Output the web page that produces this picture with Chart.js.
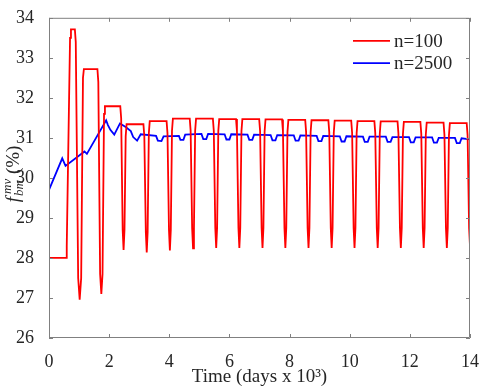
<!DOCTYPE html>
<html>
<head>
<meta charset="utf-8">
<script src="https://cdn.jsdelivr.net/npm/chart.js@4"></script>
<style>
  html, body { margin: 0; padding: 0; background: #fff; }
  #wrap { width: 484px; height: 388px; }
</style>
</head>
<body>
<div id="wrap"><canvas id="chart" width="484" height="388"></canvas></div>
<script>
// time in days x 10^3, values in %
const redTime = [
  0, 0.57, 0.59, 0.70, 0.73, 0.86, 0.89, 0.97, 1.02, 1.07, 1.13, 1.16,
  1.61, 1.64, 1.70, 1.74, 1.78, 1.83, 1.86, 2.37,
  2.40, 2.45, 2.48, 2.51, 2.55, 2.58, 3.14,
  3.17, 3.22, 3.25, 3.28, 3.32, 3.35, 3.91,
  3.94, 3.99, 4.02, 4.05, 4.09, 4.12, 4.68,
  4.71, 4.76, 4.79, 4.82, 4.86, 4.89, 5.45,
  5.48, 5.53, 5.56, 5.59, 5.63, 5.66, 6.22,
  6.25, 6.30, 6.33, 6.36, 6.40, 6.43, 6.99,
  7.02, 7.07, 7.10, 7.13, 7.17, 7.20, 7.75,
  7.78, 7.83, 7.86, 7.89, 7.93, 7.96, 8.52,
  8.55, 8.60, 8.63, 8.66, 8.70, 8.73, 9.29,
  9.32, 9.37, 9.40, 9.43, 9.47, 9.50, 10.05,
  10.08, 10.13, 10.16, 10.19, 10.23, 10.26, 10.82,
  10.85, 10.90, 10.93, 10.96, 11.00, 11.03, 11.59,
  11.62, 11.67, 11.70, 11.73, 11.77, 11.80, 12.35,
  12.38, 12.43, 12.46, 12.49, 12.53, 12.56, 13.12,
  13.15, 13.20, 13.23, 13.26, 13.30, 13.33, 13.89,
  13.92, 13.97, 14.0
];
const redPct = [
  28, 28, 28.3, 33.5, 33.71, 33.71, 33.4, 27.5, 26.96, 27.5, 32.5, 32.72,
  32.72, 32.4, 27.6, 27.1, 27.6, 31.6, 31.79, 31.79,
  31.49, 28.7, 28.2, 28.7, 31.04, 31.34, 31.34,
  31.04, 28.64, 28.14, 28.64, 31.12, 31.42, 31.42,
  31.12, 28.69, 28.19, 28.69, 31.18, 31.48, 31.48,
  31.18, 28.74, 28.24, 28.74, 31.18, 31.48, 31.48,
  31.18, 28.75, 28.25, 28.75, 31.17, 31.47, 31.47,
  31.17, 28.75, 28.25, 28.75, 31.17, 31.47, 31.47,
  31.17, 28.75, 28.25, 28.75, 31.16, 31.46, 31.46,
  31.16, 28.75, 28.25, 28.75, 31.15, 31.45, 31.45,
  31.15, 28.75, 28.25, 28.75, 31.14, 31.44, 31.44,
  31.14, 28.75, 28.25, 28.75, 31.13, 31.43, 31.43,
  31.13, 28.75, 28.25, 28.75, 31.12, 31.42, 31.42,
  31.12, 28.75, 28.25, 28.75, 31.11, 31.41, 31.41,
  31.11, 28.75, 28.25, 28.75, 31.10, 31.40, 31.40,
  31.10, 28.75, 28.25, 28.75, 31.08, 31.38, 31.38,
  31.08, 28.75, 28.25, 28.75, 31.07, 31.37, 31.37,
  31.07, 28.75, 28.3
];

const blueTime = [
  0, 0.44, 0.55, 1.18, 1.26, 1.90, 1.96, 2.04, 2.17, 2.36, 2.55, 2.72,
  2.80, 2.93, 3.05, 3.56, 3.62, 3.74, 3.81, 4.32, 4.37, 4.47, 4.53,
  5.07, 5.13, 5.23, 5.29, 5.84, 5.90, 6.00, 6.06,
  6.60, 6.66, 6.76, 6.82, 7.37, 7.43, 7.53, 7.59,
  8.14, 8.20, 8.30, 8.36, 8.90, 8.96, 9.06, 9.12,
  9.67, 9.73, 9.83, 9.89, 10.44, 10.50, 10.60, 10.66,
  11.20, 11.26, 11.36, 11.42, 11.97, 12.03, 12.13, 12.19,
  12.74, 12.80, 12.90, 12.96, 13.50, 13.56, 13.66, 13.72, 14.0
];
const bluePct = [
  29.70, 30.49, 30.30, 30.66, 30.60, 31.44, 31.32, 31.20, 31.08, 31.36, 31.27, 31.17,
  31.02, 30.93, 31.09, 31.05, 30.93, 30.92, 31.04, 31.05, 30.95, 30.95, 31.08,
  31.10, 30.97, 30.97, 31.10, 31.09, 30.96, 30.96, 31.09,
  31.08, 30.95, 30.95, 31.08, 31.07, 30.94, 30.94, 31.07,
  31.06, 30.93, 30.93, 31.06, 31.05, 30.92, 30.92, 31.05,
  31.04, 30.91, 30.91, 31.04, 31.03, 30.90, 30.90, 31.03,
  31.03, 30.90, 30.90, 31.02, 31.02, 30.89, 30.89, 31.01,
  31.01, 30.88, 30.88, 31.00, 31.00, 30.87, 30.87, 30.99, 30.96
];

const seriesNames = ["n=100", "n=2500"];
const xTicks = [0, 2, 4, 6, 8, 10, 12, 14];
const yTicks = [26, 27, 28, 29, 30, 31, 32, 33, 34];

const serif = "'Liberation Serif', 'DejaVu Serif', serif";
const textColor = "#262626";
const frameColor = "#808080";

const toPoints = (xs, ys) => xs.map((x, i) => ({ x: x, y: ys[i] }));

// box around the axes with inward ticks on all four sides
const framePlugin = {
  id: "frame",
  afterDatasetsDraw(chart) {
    const { ctx, chartArea: a, scales } = chart;
    ctx.save();
    ctx.strokeStyle = frameColor;
    ctx.lineWidth = 1;
    ctx.beginPath();
    ctx.rect(a.left + 0.5, a.top + 0.5, a.right - a.left - 1, a.bottom - a.top - 1);
    xTicks.forEach((t) => {
      const px = Math.round(scales.x.getPixelForValue(t)) + 0.5;
      ctx.moveTo(px, a.bottom);
      ctx.lineTo(px, a.bottom - 4);
      ctx.moveTo(px, a.top);
      ctx.lineTo(px, a.top + 4);
    });
    yTicks.forEach((t) => {
      const py = Math.round(scales.y.getPixelForValue(t)) + 0.5;
      ctx.moveTo(a.left, py);
      ctx.lineTo(a.left + 4, py);
      ctx.moveTo(a.right, py);
      ctx.lineTo(a.right - 4, py);
    });
    ctx.stroke();
    ctx.restore();
  },
};

// y label f_bm^mv (%) drawn rotated
const yLabelPlugin = {
  id: "ylabel",
  afterDraw(chart) {
    const { ctx, chartArea: a } = chart;
    const big = "italic 19px " + serif;
    const small = "italic 13px " + serif;
    const plain = "19px " + serif;
    ctx.save();
    ctx.translate(19, (a.top + a.bottom) / 2 - 4);
    ctx.rotate(-Math.PI / 2);
    ctx.fillStyle = textColor;
    ctx.textBaseline = "alphabetic";
    ctx.textAlign = "left";
    ctx.font = big;
    const wf = ctx.measureText("f").width;
    ctx.font = small;
    const wsub = ctx.measureText("bm").width;
    const wsup = ctx.measureText("mv").width;
    ctx.font = plain;
    const wp = ctx.measureText(" (%)").width;
    const total = wf + 1 + Math.max(wsub, wsup + 2) + wp;
    let x = -total / 2;
    ctx.font = big;
    ctx.fillText("f", x, 0);
    x += wf + 1;
    ctx.font = small;
    ctx.fillText("bm", x, 4);
    ctx.fillText("mv", x + 2, -8);
    x += Math.max(wsub, wsup + 2);
    ctx.font = plain;
    ctx.fillText(" (%)", x, 0);
    ctx.restore();
  },
};

// legend in the top right corner of the axes
const legendPlugin = {
  id: "cornerLegend",
  afterDraw(chart) {
    const { ctx, chartArea: a } = chart;
    ctx.save();
    ctx.font = "19px " + serif;
    ctx.textBaseline = "middle";
    ctx.textAlign = "left";
    chart.data.datasets.forEach((ds, i) => {
      const y = a.top + 23 + i * 22.3;
      const x0 = a.right - 117;
      ctx.strokeStyle = ds.borderColor;
      ctx.lineWidth = ds.borderWidth;
      ctx.beginPath();
      ctx.moveTo(x0, y);
      ctx.lineTo(x0 + 37, y);
      ctx.stroke();
      ctx.fillStyle = textColor;
      ctx.fillText(ds.label, x0 + 41, y + 1);
    });
    ctx.restore();
  },
};

const ctx = document.getElementById("chart").getContext("2d");
new Chart(ctx, {
  type: "line",
  data: {
    datasets: [
      {
        label: seriesNames[0],
        data: toPoints(redTime, redPct),
        borderColor: "#ff0000",
        borderWidth: 1.8,
        pointRadius: 0,
        tension: 0,
      },
      {
        label: seriesNames[1],
        data: toPoints(blueTime, bluePct),
        borderColor: "#0000ff",
        borderWidth: 1.8,
        pointRadius: 0,
        tension: 0,
      },
    ],
  },
  options: {
    responsive: false,
    animation: false,
    layout: { padding: { left: 0, right: 9, top: 8, bottom: 0 } },
    plugins: {
      legend: { display: false },
      tooltip: { enabled: false },
    },
    scales: {
      x: {
        type: "linear",
        min: 0,
        max: 14,
        afterBuildTicks: (s) => { s.ticks = xTicks.map((v) => ({ value: v })); },
        afterFit: (s) => { s.height = 50; },
        ticks: {
          color: textColor,
          font: { family: serif, size: 18 },
          padding: 5,
          maxRotation: 0,
        },
        grid: { display: false },
        border: { display: false },
        title: {
          display: true,
          text: "Time (days x 10³)",
          color: textColor,
          font: { family: serif, size: 19 },
          padding: { top: 0, bottom: 0 },
        },
      },
      y: {
        min: 26,
        max: 34,
        afterBuildTicks: (s) => { s.ticks = yTicks.map((v) => ({ value: v })); },
        afterFit: (s) => { s.width = 49; },
        ticks: {
          color: textColor,
          font: { family: serif, size: 18 },
          padding: 7,
        },
        grid: { display: false },
        border: { display: false },
      },
    },
  },
  plugins: [framePlugin, yLabelPlugin, legendPlugin],
});
</script>
</body>
</html>
